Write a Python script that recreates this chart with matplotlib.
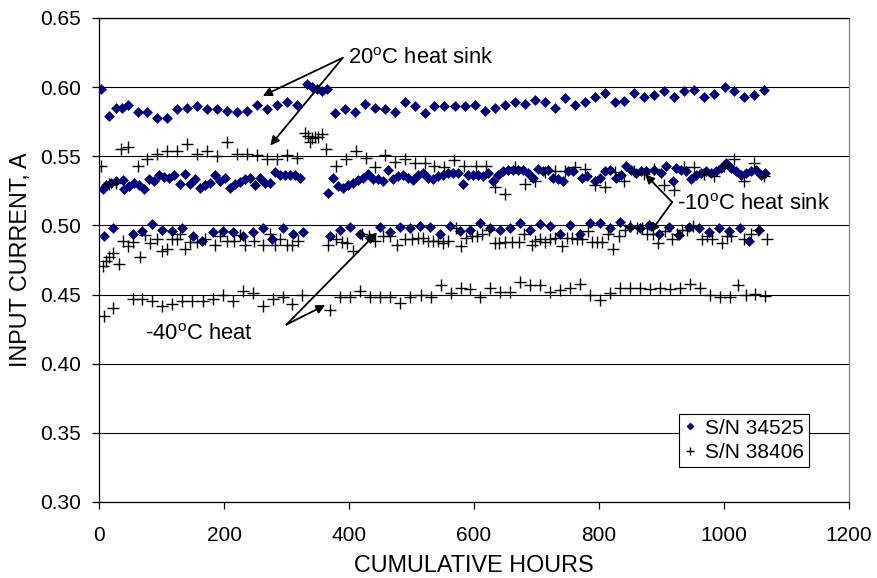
import matplotlib
matplotlib.use("Agg")
import matplotlib.pyplot as plt
import numpy as np

plt.rcParams['font.family'] = ['Liberation Sans', 'DejaVu Sans']
plt.rcParams['mathtext.fontset'] = 'custom'
plt.rcParams['mathtext.rm'] = 'Liberation Sans'

# S/N 34525 (diamonds), three heat-sink runs
a_hours_20 = [3, 16, 27, 37, 46, 62, 77, 93, 109, 125, 141, 157, 173, 189, 205, 221, 237, 253, 269, 284,
              300, 316, 332, 340, 348, 356, 364, 377, 393, 409, 425, 441, 457, 473, 489, 505, 521, 536, 552, 570,
              586, 602, 618, 634, 650, 666, 681, 697, 713, 729, 745, 761, 777, 793, 809, 825, 840, 856, 872, 888,
              904, 920, 936, 952, 968, 984, 1001, 1016, 1032, 1048, 1064]
a_current_20 = [0.599, 0.579, 0.585, 0.585, 0.587, 0.582, 0.582, 0.578, 0.578, 0.584, 0.585, 0.586, 0.584, 0.584,
                0.583, 0.582, 0.583, 0.587, 0.584, 0.587, 0.589, 0.587, 0.602, 0.600, 0.599, 0.597, 0.599, 0.581,
                0.584, 0.582, 0.588, 0.585, 0.584, 0.582, 0.589, 0.586, 0.581, 0.586, 0.586, 0.586, 0.586, 0.587,
                0.583, 0.585, 0.587, 0.589, 0.588, 0.591, 0.589, 0.585, 0.592, 0.587, 0.589, 0.593, 0.596, 0.589,
                0.590, 0.596, 0.593, 0.594, 0.597, 0.593, 0.597, 0.598, 0.593, 0.595, 0.600, 0.597, 0.593, 0.594,
                0.598]

a_hours_m10 = [6, 11, 19, 27, 38, 40, 48, 56, 64, 72, 80, 88, 96, 104, 112, 120, 129, 137, 145, 153,
               161, 169, 177, 185, 193, 201, 209, 217, 225, 233, 241, 249, 257, 265, 273, 281, 289, 297, 305, 313,
               321, 366, 374, 382, 390, 398, 406, 414, 422, 430, 438, 446, 454, 462, 470, 478, 486, 494, 502,
               510, 518, 526, 534, 542, 550, 558, 566, 574, 582, 590, 598, 606, 614, 622, 630, 638, 646, 654,
               662, 670, 678, 686, 694, 702, 710, 718, 726, 734, 742, 750, 758,
               773, 781, 793, 801, 809, 817, 827, 835, 843, 851, 859, 867, 875, 888, 899, 907, 918, 923, 931,
               939, 947, 955, 963, 971, 979, 987, 995, 1003, 1011, 1019, 1027, 1035, 1043, 1051, 1059, 1066]
a_current_m10 = [0.5265, 0.5289, 0.5308, 0.532, 0.5325, 0.5265, 0.5284, 0.5308, 0.5289, 0.526, 0.5332, 0.532,
                 0.5361, 0.5349, 0.5344, 0.5368, 0.5301, 0.5373, 0.5296, 0.5337, 0.5272, 0.5289, 0.5308, 0.5368,
                 0.532, 0.5344, 0.5272, 0.5296, 0.5313, 0.5332, 0.5344, 0.5289, 0.5344, 0.5308, 0.5308, 0.5385,
                 0.5368, 0.5361, 0.5361, 0.5368, 0.5344,
                 0.5236, 0.5344, 0.5284, 0.5272, 0.5289, 0.5308, 0.5325, 0.5344, 0.5373, 0.5332, 0.5337, 0.532,
                 0.5404, 0.5332, 0.5356, 0.5361, 0.5344, 0.5325,
                 0.5368, 0.538, 0.5344, 0.5332, 0.5356, 0.5368, 0.538, 0.538, 0.538, 0.5303, 0.5368, 0.5368,
                 0.5361, 0.5356, 0.538, 0.532, 0.5368, 0.5392, 0.5404, 0.5404, 0.5404, 0.5399, 0.538, 0.5344,
                 0.5409, 0.5392, 0.5399, 0.5344, 0.5332, 0.532, 0.5392, 0.5392,
                 0.5344, 0.5356, 0.532, 0.5344, 0.5392, 0.5404, 0.5344, 0.5368, 0.5428, 0.5404, 0.538, 0.5392,
                 0.5392, 0.5404, 0.538, 0.5428, 0.532, 0.5416, 0.5404, 0.5392, 0.5332, 0.5368, 0.538, 0.5392,
                 0.538, 0.5392, 0.5416, 0.5452, 0.5416, 0.5392, 0.5368, 0.538, 0.5392, 0.5404, 0.5368, 0.538]

a_hours_m40 = [8, 23, 54, 69, 85, 101, 117, 133, 150, 165, 182, 198, 214, 230, 246, 262, 276, 294, 310, 326,
               369, 385, 402, 418, 434, 450, 466, 482, 498, 514, 530, 546, 562, 578, 594, 610, 626, 642, 657,
               673, 689, 705, 721, 737, 753, 769, 785, 801, 817, 833, 849, 865, 880, 896, 912, 928, 944, 960,
               976, 992, 1008, 1025, 1040, 1056]
a_current_m40 = [0.492, 0.498, 0.494, 0.496, 0.501, 0.497, 0.496, 0.498, 0.492, 0.489, 0.495, 0.496, 0.495,
                 0.492, 0.495, 0.498, 0.490, 0.498, 0.494, 0.495, 0.492, 0.497, 0.499, 0.494, 0.491, 0.499,
                 0.495, 0.499, 0.498, 0.4995, 0.499, 0.494, 0.4995, 0.496, 0.497, 0.5015, 0.498, 0.497, 0.498,
                 0.5015, 0.497, 0.501, 0.4995, 0.4935, 0.500, 0.494, 0.5015, 0.502, 0.498, 0.5025, 0.499, 0.498,
                 0.500, 0.494, 0.499, 0.493, 0.499, 0.498, 0.495, 0.498, 0.496, 0.498, 0.489, 0.497]

# S/N 38406 (plus signs)
b_hours_20 = [3, 16, 27, 35, 46, 62, 77, 93, 109, 125, 141, 157, 173, 189, 205, 221, 237, 253, 269, 284,
              300, 316, 330, 335, 338, 340, 345, 351, 356, 363, 379, 395, 411, 427, 441, 457, 473, 489, 505,
              521, 536, 552, 568, 584, 603, 619, 634, 650, 666, 681, 697, 713, 729, 745, 761, 777, 793, 809,
              825, 840, 856, 872, 888, 904, 920, 936, 952, 968, 984, 1000, 1016, 1032, 1048, 1064]
b_current_20 = [0.543, 0.530, 0.531, 0.555, 0.557, 0.543, 0.548, 0.552, 0.554, 0.554, 0.559, 0.552, 0.554,
                0.5505, 0.560, 0.552, 0.552, 0.551, 0.548, 0.548, 0.551, 0.549, 0.567, 0.565, 0.560, 0.563,
                0.564, 0.564, 0.566, 0.555, 0.543, 0.548, 0.554, 0.549, 0.542, 0.551, 0.546, 0.548, 0.545,
                0.545, 0.543, 0.542, 0.547, 0.543, 0.543, 0.543, 0.528, 0.523, 0.542, 0.530, 0.532, 0.5385,
                0.539, 0.539, 0.542, 0.541, 0.529, 0.528, 0.5385, 0.532, 0.539, 0.537, 0.541, 0.529, 0.5255,
                0.542, 0.542, 0.537, 0.536, 0.543, 0.548, 0.532, 0.545, 0.536]

b_hours_m10 = [6, 11, 16, 23, 32, 39, 46, 54, 66, 73, 82, 92, 100, 108, 116, 124, 130, 138, 146, 156,
               170, 185, 193, 205, 216, 225, 234, 248, 262, 274, 282, 290, 300, 308, 319,
               367, 379, 388, 397, 406, 420, 432, 441, 454, 465, 476, 489, 501, 510,
               518, 526, 534, 542, 550, 558, 571, 579, 587, 597, 605, 613, 624, 634, 640, 650, 661, 672, 680,
               693, 698, 706, 714, 722, 730, 741, 749, 757, 765, 773, 783, 789, 797, 805, 815, 823, 832, 841,
               850, 860, 868, 877, 887, 895, 905, 916, 924, 932, 940, 951, 964, 972, 980, 996, 1004, 1011,
               1032, 1043, 1054, 1069]
b_current_m10 = [0.471, 0.474, 0.477, 0.480, 0.472, 0.489, 0.485, 0.488, 0.4775, 0.493, 0.487, 0.490, 0.4815,
                 0.483, 0.490, 0.490, 0.494, 0.483, 0.488, 0.488, 0.490, 0.486, 0.492, 0.489, 0.489, 0.493,
                 0.486, 0.489, 0.486, 0.494, 0.486, 0.490, 0.486, 0.486, 0.489,
                 0.486, 0.490, 0.488, 0.487, 0.4815, 0.4935, 0.492, 0.489, 0.492, 0.492, 0.486, 0.490, 0.490,
                 0.491,
                 0.491, 0.489, 0.489, 0.489, 0.487, 0.489, 0.498, 0.485, 0.491, 0.492, 0.492, 0.4935, 0.497,
                 0.487, 0.487, 0.488, 0.488, 0.488, 0.494, 0.486, 0.489, 0.490, 0.488, 0.490, 0.491, 0.485,
                 0.491, 0.491, 0.490, 0.490, 0.496, 0.488, 0.488, 0.488, 0.4935, 0.483, 0.492, 0.497, 0.4995,
                 0.498, 0.498, 0.494, 0.4935, 0.487, 0.496, 0.490, 0.494, 0.497, 0.497, 0.4995, 0.490, 0.492,
                 0.490, 0.4875, 0.492, 0.492, 0.490, 0.4935, 0.497, 0.490]

b_hours_m40 = [8, 23, 54, 69, 85, 101, 117, 133, 149, 166, 182, 198, 214, 230, 246, 262, 278, 294, 308, 324,
               370, 386, 402, 418, 434, 450, 466, 482, 498, 515, 531, 547, 563, 579, 593, 609, 625, 641, 657,
               674, 690, 706, 722, 738, 754, 770, 786, 802, 818, 834, 850, 866, 882, 898, 914, 930, 946, 962,
               978, 994, 1010, 1022, 1035, 1050, 1065]
b_current_m40 = [0.4345, 0.440, 0.4465, 0.4465, 0.445, 0.4415, 0.443, 0.4455, 0.4455, 0.4455, 0.447, 0.450,
                 0.4455, 0.4525, 0.451, 0.442, 0.4465, 0.448, 0.443, 0.450,
                 0.439, 0.448, 0.4485, 0.4525, 0.448, 0.448, 0.448, 0.444, 0.4485, 0.4495, 0.448, 0.457,
                 0.451, 0.4545, 0.454, 0.448, 0.455, 0.452, 0.452, 0.459, 0.457, 0.457, 0.452, 0.4535, 0.455,
                 0.4575, 0.4495, 0.446, 0.451, 0.4545, 0.4545, 0.4545, 0.454, 0.455, 0.454, 0.4545, 0.4575,
                 0.4545, 0.4495, 0.448, 0.448, 0.457, 0.450, 0.4505, 0.449]

fig = plt.figure(figsize=(8.77, 5.78), dpi=100)
ax = fig.add_axes([0.1129, 0.1315, 0.8552, 0.8374])

a_hours = np.concatenate([a_hours_20, a_hours_m10, a_hours_m40])
a_current = np.concatenate([a_current_20, a_current_m10, a_current_m40])
b_hours = np.concatenate([b_hours_20, b_hours_m10, b_hours_m40])
b_current = np.concatenate([b_current_20, b_current_m10, b_current_m40])

ax.plot(a_hours, a_current, linestyle='none', marker='D', markersize=4.8,
        color='#000080', markeredgewidth=0.4, label='S/N 34525', zorder=3)
ax.plot(b_hours, b_current, linestyle='none', marker='+', markersize=8,
        color='black', markeredgewidth=1.0, label='S/N 38406', zorder=3)

ax.set_xlim(0, 1200)
ax.set_ylim(0.30, 0.65)
ax.set_xticks(np.arange(0, 1201, 200))
ax.set_yticks(np.arange(0.30, 0.651, 0.05))
ax.yaxis.set_major_formatter(matplotlib.ticker.FormatStrFormatter('%.2f'))
ax.yaxis.grid(True, color='black', linewidth=0.8)
ax.set_axisbelow(True)
ax.tick_params(axis='both', direction='out', length=5, width=0.9, labelsize=15)
ax.tick_params(axis='x', pad=12)
ax.tick_params(axis='y', pad=8)

for side in ['left', 'bottom', 'top']:
    ax.spines[side].set_color('black')
    ax.spines[side].set_linewidth(0.9)
ax.spines['right'].set_color('#808080')
ax.spines['right'].set_linewidth(0.9)

ax.set_xlabel('CUMULATIVE HOURS', fontsize=16.8, labelpad=7)
ax.set_ylabel('INPUT CURRENT, A', fontsize=16.8, labelpad=6)

arrow = dict(arrowstyle='-|>', color='black', lw=1.3, mutation_scale=13, shrinkA=0, shrinkB=0)

# 20 C heat sink
ax.text(399, 0.621, '20$^{\\mathregular{o}}$C heat sink', fontsize=15.8, va='center', ha='left')
ax.annotate('', xy=(262, 0.5937), xytext=(390, 0.6212), arrowprops=arrow)
ax.annotate('', xy=(274, 0.5578), xytext=(390, 0.6212), arrowprops=arrow)

# -10 C heat sink
ax.text(925, 0.515, '-10$^{\\mathregular{o}}$C heat sink', fontsize=15.8, va='center', ha='left')
ax.annotate('', xy=(874, 0.5368), xytext=(917, 0.5168), arrowprops=arrow)
ax.annotate('', xy=(882, 0.4950), xytext=(917, 0.5168), arrowprops=arrow)

# -40 C heat
ax.text(246, 0.421, '-40$^{\\mathregular{o}}$C heat', fontsize=15.8, va='center', ha='right')
ax.annotate('', xy=(362, 0.4424), xytext=(300, 0.4283), arrowprops=arrow)
ax.annotate('', xy=(445, 0.4950), xytext=(300, 0.4283), arrowprops=arrow)

leg = ax.legend(loc='lower right', bbox_to_anchor=(0.947, 0.072), fontsize=15, frameon=True,
                fancybox=False, edgecolor='black', framealpha=1, handlelength=0.6,
                handletextpad=0.4, borderpad=0.25, labelspacing=0.25, markerscale=0.75,
                borderaxespad=0)
leg.get_frame().set_linewidth(0.8)

fig.savefig('out.png', dpi=100)
